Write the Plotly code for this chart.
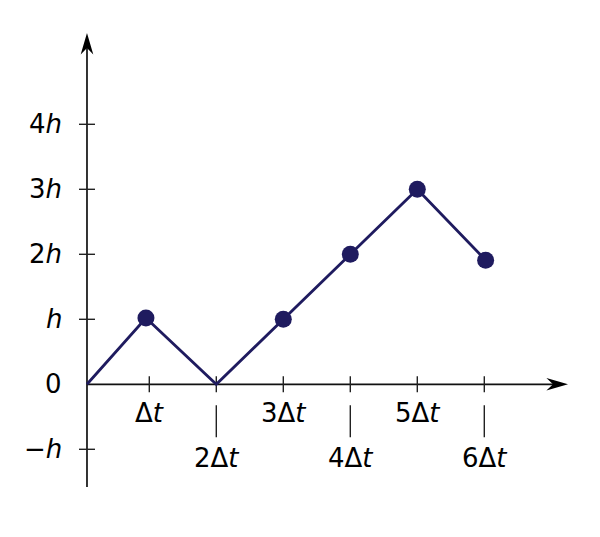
import plotly.graph_objects as go

# ---- data ----
walk_t = [0.07, 0.95, 2.0, 3.0, 4.0, 5.0, 6.02]      # time (units of Δt)
walk_y = [0.0, 1.02, 0.0, 1.0, 2.0, 3.0, 1.91]        # position (units of h)
marked = [1, 3, 4, 5, 6]                              # indices drawn with a dot

x_tick_vals = [1, 2, 3, 4, 5, 6]
x_tick_text = ["Δ<i>t</i>", "2Δ<i>t</i>", "3Δ<i>t</i>", "4Δ<i>t</i>", "5Δ<i>t</i>", "6Δ<i>t</i>"]
y_tick_vals = [-1, 0, 1, 2, 3, 4]
y_tick_text = ["−<i>h</i>", "0", "<i>h</i>", "2<i>h</i>", "3<i>h</i>", "4<i>h</i>"]

W, H = 600, 537
PAGE_OFF = 8  # body margin of the html page
ORIGIN_PX = (82.3 - PAGE_OFF, 384.3 - PAGE_OFF)
UX, UY = 67.0, 65.0
xr = [-ORIGIN_PX[0] / UX, (W - ORIGIN_PX[0]) / UX]
yr = [(ORIGIN_PX[1] - H) / UY, ORIGIN_PX[1] / UY]

LINE = "#1f1b5f"
AX = "#222222"
FONT = dict(family="DejaVu Sans", size=26, color="#000000")

t0 = walk_t[0]
x_end = (568 - PAGE_OFF - ORIGIN_PX[0]) / UX
y_top = (ORIGIN_PX[1] - (33 - PAGE_OFF)) / UY
y_bot = (ORIGIN_PX[1] - (487 - PAGE_OFF)) / UY

fig = go.Figure()
fig.add_trace(go.Scatter(x=walk_t, y=walk_y, mode="lines",
                         line=dict(color=LINE, width=2.8), hoverinfo="skip"))
fig.add_trace(go.Scatter(x=[walk_t[i] for i in marked], y=[walk_y[i] for i in marked],
                         mode="markers", marker=dict(color=LINE, size=17), hoverinfo="skip"))

shapes = []
annotations = []

# axes
shapes.append(dict(type="line", xref="x", yref="y", x0=t0, x1=x_end - 0.2, y0=0, y1=0,
                   line=dict(color="#111111", width=1.7), layer="below"))
shapes.append(dict(type="line", xref="x", yref="y", x0=t0, x1=t0, y0=y_bot, y1=y_top - 0.2,
                   line=dict(color="#111111", width=1.7), layer="below"))
# stealth arrowheads (pixel-sized paths anchored at the axis tips)
L, Hw, N = 21.6, 6.3, 15.0
shapes.append(dict(type="path", xref="x", yref="y", xsizemode="pixel", ysizemode="pixel",
                   xanchor=x_end, yanchor=0,
                   path=f"M0,0 L{-L},{Hw} L{-N},0 L{-L},{-Hw} Z",
                   fillcolor="#000000", line=dict(width=0)))
shapes.append(dict(type="path", xref="x", yref="y", xsizemode="pixel", ysizemode="pixel",
                   xanchor=t0, yanchor=y_top,
                   path=f"M0,0 L{Hw},{-L} L0,{-N} L{-Hw},{-L} Z",
                   fillcolor="#000000", line=dict(width=0)))

# x ticks
for i, (v, txt) in enumerate(zip(x_tick_vals, x_tick_text)):
    shapes.append(dict(type="line", xref="x", yref="y", ysizemode="pixel", yanchor=0,
                       x0=v, x1=v, y0=-8, y1=8, line=dict(color=AX, width=1.4), layer="below"))
    even = (i % 2 == 1)
    if even:
        shapes.append(dict(type="line", xref="x", yref="y", ysizemode="pixel", yanchor=0,
                           x0=v, x1=v, y0=-21, y1=-53, line=dict(color=AX, width=1.4)))
    annotations.append(dict(x=v, y=0, xref="x", yref="y", text=txt, showarrow=False,
                            xanchor="center", yanchor="middle",
                            yshift=-74 if even else -29, font=FONT))

# y ticks
for v, txt in zip(y_tick_vals, y_tick_text):
    if v != 0:
        shapes.append(dict(type="line", xref="x", yref="y", xsizemode="pixel", xanchor=t0,
                           x0=-8, x1=8, y0=v, y1=v, line=dict(color=AX, width=1.4)))
    annotations.append(dict(x=t0, y=v, xref="x", yref="y", text=txt, showarrow=False,
                            xanchor="right", yanchor="middle", xshift=-23, font=FONT))

fig.update_layout(
    width=W, height=H,
    margin=dict(l=0, r=0, t=0, b=0),
    paper_bgcolor="white", plot_bgcolor="white",
    showlegend=False,
    xaxis=dict(range=xr, visible=False, fixedrange=True),
    yaxis=dict(range=yr, visible=False, fixedrange=True),
    shapes=shapes, annotations=annotations,
)
fig.write_html("out.html")
